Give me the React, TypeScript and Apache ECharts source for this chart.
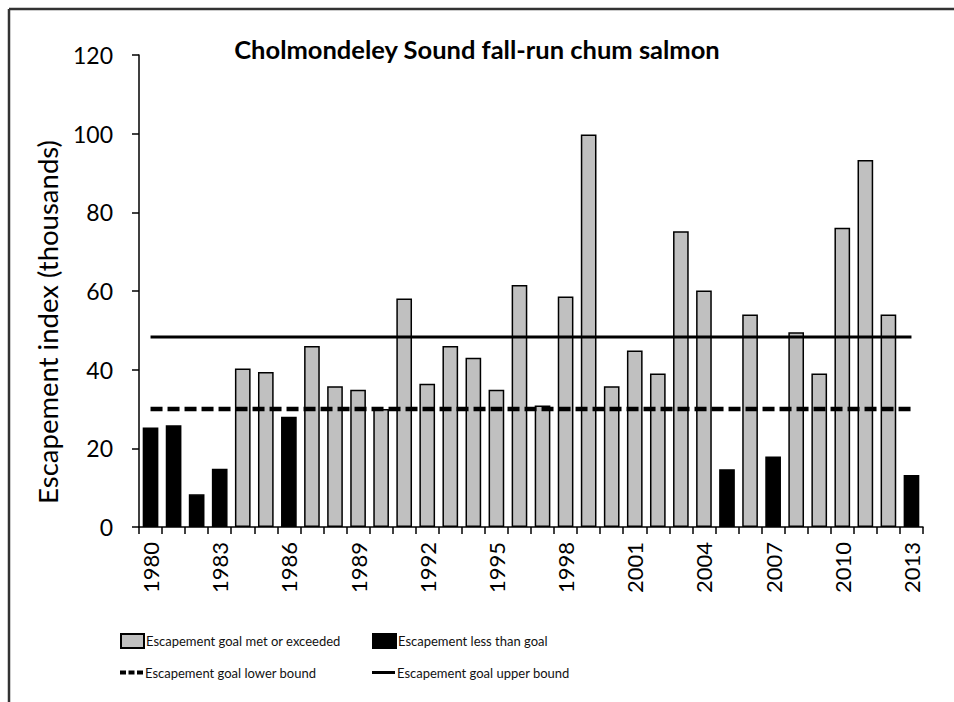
import React, { useEffect, useRef } from "react";
import * as echarts from "echarts";

const years: string[] = [
  "1980", "1981", "1982", "1983", "1984", "1985", "1986", "1987", "1988", "1989",
  "1990", "1991", "1992", "1993", "1994", "1995", "1996", "1997", "1998", "1999",
  "2000", "2001", "2002", "2003", "2004", "2005", "2006", "2007", "2008", "2009",
  "2010", "2011", "2012", "2013",
];

// Escapement index (thousands)
const escapement: number[] = [
  25.3, 25.9, 8.3, 14.8, 40.3, 39.4, 28.0, 46.0, 35.8, 34.9,
  30.0, 58.1, 36.4, 46.0, 43.0, 34.9, 61.5, 30.9, 58.6, 99.8,
  35.8, 44.9, 39.0, 75.2, 60.1, 14.7, 54.0, 17.9, 49.5, 39.0,
  76.1, 93.3, 54.0, 13.2,
];

const lowerBound = 30;
const upperBound = 48.3;

const yTicks = { min: 0, max: 120, interval: 20 };

const FONT = "Lato, 'Open Sans', sans-serif";

export default function App() {
  const ref = useRef<HTMLDivElement>(null);

  useEffect(() => {
    if (!ref.current) return;
    const chart = echarts.init(ref.current, undefined, { renderer: "svg" });

    const met = escapement.map((v) => (v >= lowerBound ? v : "-"));
    const less = escapement.map((v) => (v < lowerBound ? v : "-"));
    const lower = years.map(() => lowerBound);
    const upper = years.map(() => upperBound);

    const legendCommon = {
      orient: "horizontal" as const,
      padding: 0,
      itemWidth: 23,
      itemHeight: 14,
      itemGap: 4,
      selectedMode: false,
      textStyle: { fontFamily: FONT, fontSize: 13, color: "#111", padding: [0, 0, 0, -3] },
    };

    chart.setOption({
      animation: false,
      backgroundColor: "#fff",
      title: {
        text: "Cholmondeley Sound fall-run chum salmon",
        left: "center",
        top: 31,
        textStyle: { fontFamily: FONT, fontSize: 25.5, fontWeight: "bold", color: "#000" },
      },
      legend: [
        { ...legendCommon, data: [{ name: "Escapement goal met or exceeded", icon: "rect" }], left: 120, top: 633 },
        { ...legendCommon, data: [{ name: "Escapement less than goal", icon: "rect" }], left: 372, top: 633 },
        {
          ...legendCommon,
          itemHeight: 4,
          data: [{ name: "Escapement goal lower bound", icon: "path://M0,0H6V4H0Z M8.5,0H14.5V4H8.5Z M17,0H23V4H17Z" }],
          left: 120,
          top: 666,
        },
        {
          ...legendCommon,
          itemHeight: 3,
          data: [{ name: "Escapement goal upper bound", icon: "path://M0,0H23V3H0Z" }],
          left: 372,
          top: 666,
        },
      ],
      graphic: [
        { type: "line", shape: { x1: 9, y1: 9, x2: 954, y2: 9 }, style: { stroke: "#333", lineWidth: 2.5 } },
        { type: "line", shape: { x1: 9, y1: 9, x2: 9, y2: 702 }, style: { stroke: "#333", lineWidth: 2.5 } },
        {
          type: "text",
          x: 47,
          y: 322,
          rotation: Math.PI / 2,
          style: {
            text: "Escapement index (thousands)",
            fontFamily: FONT,
            fontSize: 27.5,
            fill: "#000",
            align: "center",
            verticalAlign: "middle",
          },
        },
      ],
      grid: { left: 139, right: 31, top: 55, bottom: 175, containLabel: false },
      xAxis: {
        type: "category",
        data: years,
        boundaryGap: true,
        axisLine: { lineStyle: { color: "#000", width: 1.5 } },
        axisTick: { show: true, interval: 0, length: 7, alignWithLabel: false, lineStyle: { color: "#000", width: 1.5 } },
        axisLabel: {
          interval: 2,
          rotate: 90,
          margin: 15,
          fontFamily: FONT,
          fontSize: 22,
          color: "#000",
        },
      },
      yAxis: {
        type: "value",
        min: yTicks.min,
        max: yTicks.max,
        interval: yTicks.interval,
        axisLine: { show: true, lineStyle: { color: "#000", width: 1.5 } },
        axisTick: { show: true, length: 7, lineStyle: { color: "#000", width: 1.5 } },
        splitLine: { show: false },
        axisLabel: { margin: 26, fontFamily: FONT, fontSize: 23, color: "#000" },
      },
      series: [
        {
          name: "Escapement goal met or exceeded",
          type: "bar",
          stack: "esc",
          data: met,
          barWidth: "68%",
          itemStyle: { color: "#c0c0c0", borderColor: "#000", borderWidth: 1.5 },
        },
        {
          name: "Escapement less than goal",
          type: "bar",
          stack: "esc",
          data: less,
          barWidth: "68%",
          itemStyle: { color: "#000", borderColor: "#000", borderWidth: 1.5 },
        },
        {
          name: "Escapement goal lower bound",
          type: "line",
          data: lower,
          symbol: "none",
          z: 5,
          lineStyle: { color: "#000", width: 4.5, type: [12, 5] },
          itemStyle: { color: "#000" },
        },
        {
          name: "Escapement goal upper bound",
          type: "line",
          data: upper,
          symbol: "none",
          z: 5,
          lineStyle: { color: "#000", width: 3, type: "solid" },
          itemStyle: { color: "#000" },
        },
      ],
    });

    return () => chart.dispose();
  }, []);

  return (
    <div
      ref={ref}
      style={{ position: "fixed", left: 0, top: 0, width: 954, height: 702, background: "#fff" }}
    />
  );
}
